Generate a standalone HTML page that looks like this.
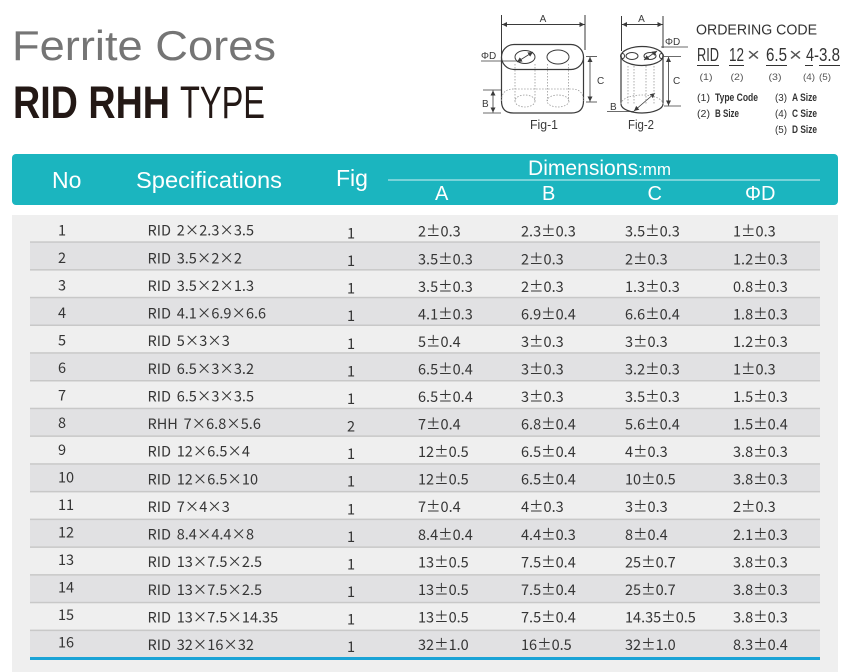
<!DOCTYPE html>
<html>
<head>
<meta charset="utf-8">
<style>
html,body{margin:0;padding:0;background:#fff;}
svg{display:block;}
.t{font-family:"Noto Sans CJK SC","Liberation Sans",sans-serif;font-size:14.5px;fill:#353535;}
.h{font-family:"Liberation Sans",Arial,sans-serif;fill:#fff;}
.f{font-family:"Liberation Sans",Arial,sans-serif;fill:#3a3a3a;}
</style>
</head>
<body>
<svg width="850" height="672" viewBox="0 0 850 672" xmlns="http://www.w3.org/2000/svg">
<defs>
<marker id="ar" viewBox="0 0 6 6" refX="6" refY="3" markerWidth="5" markerHeight="5" orient="auto-start-reverse" markerUnits="userSpaceOnUse">
<path d="M0,0 L6,3 L0,6 z" fill="#3a3a3a"/>
</marker>
</defs>
<rect x="0" y="0" width="850" height="672" fill="#fff"/>

<!-- Title -->
<text x="12" y="60" font-family="Liberation Sans, Arial, sans-serif" font-size="42" fill="#757575" textLength="264" lengthAdjust="spacingAndGlyphs">Ferrite Cores</text>
<text x="13" y="118" font-family="Liberation Sans, Arial, sans-serif" font-size="45" font-weight="bold" fill="#231815" textLength="157" lengthAdjust="spacingAndGlyphs">RID RHH</text>
<text x="180" y="118" font-family="Liberation Sans, Arial, sans-serif" font-size="45" fill="#231815" textLength="85" lengthAdjust="spacingAndGlyphs">TYPE</text>

<!-- Fig-1 -->
<g stroke="#3a3a3a" fill="none" stroke-width="1">
<line x1="501.5" y1="15" x2="501.5" y2="56"/>
<line x1="585" y1="15" x2="585" y2="50"/>
<line x1="502" y1="24.5" x2="584.5" y2="24.5" marker-start="url(#ar)" marker-end="url(#ar)"/>
<path d="M501.5,57 V101 Q501.5,113 513.5,113 H571.5 Q583.5,113 583.5,101 V57" stroke-width="1.2"/>
<rect x="501.5" y="44.5" width="82" height="25" rx="12.5" ry="12.5" fill="#fff" stroke-width="1.2"/>
<ellipse cx="525" cy="57" rx="10" ry="6.5"/>
<ellipse cx="558" cy="57" rx="11" ry="7"/>
<line x1="517" y1="62" x2="533" y2="52" stroke-width="0.8" marker-start="url(#ar)" marker-end="url(#ar)"/>
<line x1="481" y1="61" x2="517" y2="61" stroke-width="0.8"/>
<line x1="586" y1="56.5" x2="597" y2="56.5" stroke-width="0.8"/>
<line x1="586" y1="102" x2="597" y2="102" stroke-width="0.8"/>
<line x1="590" y1="57" x2="590" y2="101.5" stroke-width="0.8" marker-start="url(#ar)" marker-end="url(#ar)"/>
<line x1="483" y1="90" x2="501" y2="90" stroke-width="0.8"/>
<line x1="483" y1="113" x2="501" y2="113" stroke-width="0.8"/>
<line x1="493" y1="90.5" x2="493" y2="112.5" stroke-width="0.8" marker-start="url(#ar)" marker-end="url(#ar)"/>
</g>
<g stroke="#9a9a9a" fill="none" stroke-width="0.8" stroke-dasharray="1.5 1.5">
<line x1="515" y1="64" x2="515" y2="101"/>
<line x1="535" y1="64" x2="535" y2="101"/>
<line x1="547.5" y1="64" x2="547.5" y2="101"/>
<line x1="568.5" y1="64" x2="568.5" y2="101"/>
<ellipse cx="525" cy="101" rx="10" ry="6"/>
<ellipse cx="558" cy="101" rx="11" ry="6"/>
<path d="M501.5,101 Q501.5,89 513.5,89 H571.5 Q583.5,89 583.5,101"/>
</g>
<text class="f" x="543" y="22" font-size="10" text-anchor="middle">A</text>
<text class="f" x="481" y="59" font-size="10">ΦD</text>
<text class="f" x="597" y="84" font-size="10">C</text>
<text class="f" x="482" y="107" font-size="10">B</text>
<text class="f" x="530" y="129" font-size="12.5" textLength="28" lengthAdjust="spacingAndGlyphs">Fig-1</text>

<!-- Fig-2 -->
<g stroke="#3a3a3a" fill="none" stroke-width="1">
<line x1="621.5" y1="16" x2="621.5" y2="51"/>
<line x1="663" y1="16" x2="663" y2="48"/>
<line x1="622" y1="24.5" x2="662.5" y2="24.5" marker-start="url(#ar)" marker-end="url(#ar)"/>
<line x1="621" y1="56" x2="621" y2="104" stroke-width="1.2"/>
<line x1="663" y1="56" x2="663" y2="104" stroke-width="1.2"/>
<path d="M621,104 A21,9 0 0 0 663,104" stroke-width="1.2"/>
<ellipse cx="642" cy="56" rx="21" ry="9.5" stroke-width="1.2"/>
<ellipse cx="632" cy="56" rx="6" ry="3.5"/>
<ellipse cx="650" cy="56" rx="6" ry="3.5"/>
<ellipse cx="622.5" cy="56" rx="2" ry="2.5"/>
<ellipse cx="661.5" cy="56" rx="2" ry="2.5"/>
<line x1="644" y1="60" x2="657" y2="51" stroke-width="0.8" marker-start="url(#ar)" marker-end="url(#ar)"/>
<line x1="661" y1="47" x2="688" y2="47" stroke-width="0.8"/>
<line x1="664" y1="56.5" x2="681" y2="56.5" stroke-width="0.8"/>
<line x1="664" y1="106" x2="681" y2="106" stroke-width="0.8"/>
<line x1="668.5" y1="57" x2="668.5" y2="105.5" stroke-width="0.8" marker-start="url(#ar)" marker-end="url(#ar)"/>
<line x1="607" y1="111.5" x2="634" y2="111.5" stroke-width="0.8"/>
<line x1="634" y1="111" x2="655" y2="93" stroke-width="0.8" marker-start="url(#ar)" marker-end="url(#ar)"/>
</g>
<g stroke="#9a9a9a" fill="none" stroke-width="0.8" stroke-dasharray="1.5 1.5">
<line x1="628" y1="66" x2="628" y2="104"/>
<line x1="634" y1="66" x2="634" y2="104"/>
<line x1="646" y1="66" x2="646" y2="104"/>
<line x1="654" y1="66" x2="654" y2="104"/>
<path d="M621,104 A21,9 0 0 1 663,104"/>
</g>
<text class="f" x="641.5" y="22" font-size="10" text-anchor="middle">A</text>
<text class="f" x="665" y="45" font-size="10">ΦD</text>
<text class="f" x="673" y="84" font-size="10">C</text>
<text class="f" x="610" y="110" font-size="10">B</text>
<text class="f" x="628" y="129" font-size="12.5" textLength="26" lengthAdjust="spacingAndGlyphs">Fig-2</text>

<!-- Ordering code -->
<g font-family="Liberation Sans, Arial, sans-serif" fill="#333">
<text x="696" y="34.5" font-size="15" textLength="121" lengthAdjust="spacingAndGlyphs">ORDERING CODE</text>
<text x="697" y="61" font-size="18" textLength="22" lengthAdjust="spacingAndGlyphs">RID</text>
<text x="729" y="61" font-size="18" textLength="15" lengthAdjust="spacingAndGlyphs">12</text>
<text x="747" y="61" font-size="18" fill="#555" textLength="13" lengthAdjust="spacingAndGlyphs">×</text>
<text x="766" y="61" font-size="18" textLength="21" lengthAdjust="spacingAndGlyphs">6.5</text>
<text x="789" y="61" font-size="18" fill="#555" textLength="13" lengthAdjust="spacingAndGlyphs">×</text>
<text x="806" y="61" font-size="18" textLength="8" lengthAdjust="spacingAndGlyphs">4</text>
<text x="814" y="61" font-size="18" textLength="5" lengthAdjust="spacingAndGlyphs">-</text>
<text x="819" y="61" font-size="18" textLength="21" lengthAdjust="spacingAndGlyphs">3.8</text>
</g>
<g stroke="#333" stroke-width="1">
<line x1="697" y1="65.5" x2="719" y2="65.5"/>
<line x1="729" y1="65.5" x2="744" y2="65.5"/>
<line x1="766" y1="65.5" x2="787" y2="65.5"/>
<line x1="805" y1="65.5" x2="813" y2="65.5"/>
<line x1="819" y1="65.5" x2="840" y2="65.5"/>
</g>
<g font-family="Liberation Sans, Arial, sans-serif" font-size="9" fill="#555" text-anchor="middle">
<text x="706" y="80" textLength="13" lengthAdjust="spacingAndGlyphs">(1)</text>
<text x="737" y="80" textLength="13" lengthAdjust="spacingAndGlyphs">(2)</text>
<text x="775" y="80" textLength="13" lengthAdjust="spacingAndGlyphs">(3)</text>
<text x="809" y="80" textLength="12" lengthAdjust="spacingAndGlyphs">(4)</text>
<text x="825" y="80" textLength="12" lengthAdjust="spacingAndGlyphs">(5)</text>
</g>
<g font-family="Liberation Sans, Arial, sans-serif" fill="#333">
<text x="697" y="101" font-size="10" textLength="13" lengthAdjust="spacingAndGlyphs">(1)</text>
<text x="715" y="101" font-size="11" font-weight="bold" textLength="43" lengthAdjust="spacingAndGlyphs">Type Code</text>
<text x="697" y="117" font-size="10" textLength="13" lengthAdjust="spacingAndGlyphs">(2)</text>
<text x="715" y="117" font-size="11" font-weight="bold" textLength="24" lengthAdjust="spacingAndGlyphs">B Size</text>
<text x="775" y="101" font-size="10" textLength="12" lengthAdjust="spacingAndGlyphs">(3)</text>
<text x="792" y="101" font-size="11" font-weight="bold" textLength="25" lengthAdjust="spacingAndGlyphs">A Size</text>
<text x="775" y="117" font-size="10" textLength="12" lengthAdjust="spacingAndGlyphs">(4)</text>
<text x="792" y="117" font-size="11" font-weight="bold" textLength="25" lengthAdjust="spacingAndGlyphs">C Size</text>
<text x="775" y="133" font-size="10" textLength="12" lengthAdjust="spacingAndGlyphs">(5)</text>
<text x="792" y="133" font-size="11" font-weight="bold" textLength="25" lengthAdjust="spacingAndGlyphs">D Size</text>
</g>

<!-- Table header -->
<rect x="12" y="154" width="826" height="51" rx="4" ry="4" fill="#1bb5bf"/>
<text class="h" x="52" y="188" font-size="23">No</text>
<text class="h" x="136" y="188" font-size="23" textLength="146" lengthAdjust="spacingAndGlyphs">Specifications</text>
<text class="h" x="336" y="186" font-size="23">Fig</text>
<text class="h" x="528" y="175" font-size="21"><tspan textLength="110" lengthAdjust="spacingAndGlyphs">Dimensions</tspan><tspan font-size="17">:mm</tspan></text>
<line x1="388" y1="180" x2="820" y2="180" stroke="#d6f1f3" stroke-width="1"/>
<text class="h" x="435" y="200" font-size="20">A</text>
<text class="h" x="542" y="200" font-size="20">B</text>
<text class="h" x="647.5" y="200" font-size="20">C</text>
<text class="h" x="745" y="200" font-size="20">ΦD</text>

<!-- Table body -->
<rect x="12" y="215" width="826" height="457" fill="#efefef"/>
<g fill="#e1e1e3">
<rect x="30" y="242" width="790" height="27.8"/>
<rect x="30" y="297.5" width="790" height="27.7"/>
<rect x="30" y="352.95" width="790" height="27.75"/>
<rect x="30" y="408.4" width="790" height="27.7"/>
<rect x="30" y="463.9" width="790" height="27.7"/>
<rect x="30" y="519.3" width="790" height="27.8"/>
<rect x="30" y="574.8" width="790" height="27.7"/>
<rect x="30" y="630.3" width="790" height="27.7"/>
</g>
<g fill="#c8c8c8">
<rect x="30" y="241.3" width="790" height="1.5"/>
<rect x="30" y="269.1" width="790" height="1.5"/>
<rect x="30" y="296.8" width="790" height="1.5"/>
<rect x="30" y="324.5" width="790" height="1.5"/>
<rect x="30" y="352.2" width="790" height="1.5"/>
<rect x="30" y="380" width="790" height="1.5"/>
<rect x="30" y="407.7" width="790" height="1.5"/>
<rect x="30" y="435.4" width="790" height="1.5"/>
<rect x="30" y="463.2" width="790" height="1.5"/>
<rect x="30" y="490.9" width="790" height="1.5"/>
<rect x="30" y="518.6" width="790" height="1.5"/>
<rect x="30" y="546.4" width="790" height="1.5"/>
<rect x="30" y="574.1" width="790" height="1.5"/>
<rect x="30" y="601.8" width="790" height="1.5"/>
<rect x="30" y="629.6" width="790" height="1.5"/>
</g>
<rect x="30" y="657" width="790" height="3" fill="#1aa3d6"/>

<!-- No column -->
<g>
<text class="t" x="58" y="235.7">1</text>
<text class="t" x="58" y="263.1">2</text>
<text class="t" x="58" y="290.6">3</text>
<text class="t" x="58" y="318.0">4</text>
<text class="t" x="58" y="345.5">5</text>
<text class="t" x="58" y="372.9">6</text>
<text class="t" x="58" y="400.3">7</text>
<text class="t" x="58" y="427.8">8</text>
<text class="t" x="58" y="455.2">9</text>
<text class="t" x="58" y="482.7">10</text>
<text class="t" x="58" y="510.1">11</text>
<text class="t" x="58" y="537.5">12</text>
<text class="t" x="58" y="565.0">13</text>
<text class="t" x="58" y="592.4">14</text>
<text class="t" x="58" y="619.9">15</text>
<text class="t" x="58" y="647.3">16</text>
</g>

<!-- Specifications -->
<g>
<text class="t" x="147.5" y="235.7">RID <tspan dx="2.5">2×2.3×3.5</tspan></text>
<text class="t" x="147.5" y="263.3">RID <tspan dx="2.5">3.5×2×2</tspan></text>
<text class="t" x="147.5" y="290.9">RID <tspan dx="2.5">3.5×2×1.3</tspan></text>
<text class="t" x="147.5" y="318.6">RID <tspan dx="2.5">4.1×6.9×6.6</tspan></text>
<text class="t" x="147.5" y="346.2">RID <tspan dx="2.5">5×3×3</tspan></text>
<text class="t" x="147.5" y="373.8">RID <tspan dx="2.5">6.5×3×3.2</tspan></text>
<text class="t" x="147.5" y="401.4">RID <tspan dx="2.5">6.5×3×3.5</tspan></text>
<text class="t" x="147.5" y="429.0">RHH <tspan dx="2.5">7×6.8×5.6</tspan></text>
<text class="t" x="147.5" y="456.7">RID <tspan dx="2.5">12×6.5×4</tspan></text>
<text class="t" x="147.5" y="484.3">RID <tspan dx="2.5">12×6.5×10</tspan></text>
<text class="t" x="147.5" y="511.9">RID <tspan dx="2.5">7×4×3</tspan></text>
<text class="t" x="147.5" y="539.5">RID <tspan dx="2.5">8.4×4.4×8</tspan></text>
<text class="t" x="147.5" y="567.1">RID <tspan dx="2.5">13×7.5×2.5</tspan></text>
<text class="t" x="147.5" y="594.8">RID <tspan dx="2.5">13×7.5×2.5</tspan></text>
<text class="t" x="147.5" y="622.4">RID <tspan dx="2.5">13×7.5×14.35</tspan></text>
<text class="t" x="147.5" y="650.0">RID <tspan dx="2.5">32×16×32</tspan></text>
</g>

<!-- Fig -->
<g>
<text class="t" x="347" y="238.5">1</text>
<text class="t" x="347" y="266.1">1</text>
<text class="t" x="347" y="293.7">1</text>
<text class="t" x="347" y="321.2">1</text>
<text class="t" x="347" y="348.8">1</text>
<text class="t" x="347" y="376.4">1</text>
<text class="t" x="347" y="404.0">1</text>
<text class="t" x="347" y="431.6">2</text>
<text class="t" x="347" y="459.1">1</text>
<text class="t" x="347" y="486.7">1</text>
<text class="t" x="347" y="514.3">1</text>
<text class="t" x="347" y="541.9">1</text>
<text class="t" x="347" y="569.5">1</text>
<text class="t" x="347" y="597.0">1</text>
<text class="t" x="347" y="624.6">1</text>
<text class="t" x="347" y="652.2">1</text>
</g>

<!-- A -->
<g>
<text class="t" x="418" y="236.7">2±0.3</text>
<text class="t" x="418" y="264.3">3.5±0.3</text>
<text class="t" x="418" y="291.8">3.5±0.3</text>
<text class="t" x="418" y="319.4">4.1±0.3</text>
<text class="t" x="418" y="346.9">5±0.4</text>
<text class="t" x="418" y="374.5">6.5±0.4</text>
<text class="t" x="418" y="402.0">6.5±0.4</text>
<text class="t" x="418" y="429.6">7±0.4</text>
<text class="t" x="418" y="457.1">12±0.5</text>
<text class="t" x="418" y="484.7">12±0.5</text>
<text class="t" x="418" y="512.2">7±0.4</text>
<text class="t" x="418" y="539.8">8.4±0.4</text>
<text class="t" x="418" y="567.3">13±0.5</text>
<text class="t" x="418" y="594.9">13±0.5</text>
<text class="t" x="418" y="622.4">13±0.5</text>
<text class="t" x="418" y="650.0">32±1.0</text>
</g>

<!-- B -->
<g>
<text class="t" x="521" y="236.7">2.3±0.3</text>
<text class="t" x="521" y="264.3">2±0.3</text>
<text class="t" x="521" y="291.8">2±0.3</text>
<text class="t" x="521" y="319.4">6.9±0.4</text>
<text class="t" x="521" y="346.9">3±0.3</text>
<text class="t" x="521" y="374.5">3±0.3</text>
<text class="t" x="521" y="402.0">3±0.3</text>
<text class="t" x="521" y="429.6">6.8±0.4</text>
<text class="t" x="521" y="457.1">6.5±0.4</text>
<text class="t" x="521" y="484.7">6.5±0.4</text>
<text class="t" x="521" y="512.2">4±0.3</text>
<text class="t" x="521" y="539.8">4.4±0.3</text>
<text class="t" x="521" y="567.3">7.5±0.4</text>
<text class="t" x="521" y="594.9">7.5±0.4</text>
<text class="t" x="521" y="622.4">7.5±0.4</text>
<text class="t" x="521" y="650.0">16±0.5</text>
</g>

<!-- C -->
<g>
<text class="t" x="625" y="236.7">3.5±0.3</text>
<text class="t" x="625" y="264.3">2±0.3</text>
<text class="t" x="625" y="291.8">1.3±0.3</text>
<text class="t" x="625" y="319.4">6.6±0.4</text>
<text class="t" x="625" y="346.9">3±0.3</text>
<text class="t" x="625" y="374.5">3.2±0.3</text>
<text class="t" x="625" y="402.0">3.5±0.3</text>
<text class="t" x="625" y="429.6">5.6±0.4</text>
<text class="t" x="625" y="457.1">4±0.3</text>
<text class="t" x="625" y="484.7">10±0.5</text>
<text class="t" x="625" y="512.2">3±0.3</text>
<text class="t" x="625" y="539.8">8±0.4</text>
<text class="t" x="625" y="567.3">25±0.7</text>
<text class="t" x="625" y="594.9">25±0.7</text>
<text class="t" x="625" y="622.4">14.35±0.5</text>
<text class="t" x="625" y="650.0">32±1.0</text>
</g>

<!-- D -->
<g>
<text class="t" x="733" y="236.7">1±0.3</text>
<text class="t" x="733" y="264.3">1.2±0.3</text>
<text class="t" x="733" y="291.8">0.8±0.3</text>
<text class="t" x="733" y="319.4">1.8±0.3</text>
<text class="t" x="733" y="346.9">1.2±0.3</text>
<text class="t" x="733" y="374.5">1±0.3</text>
<text class="t" x="733" y="402.0">1.5±0.3</text>
<text class="t" x="733" y="429.6">1.5±0.4</text>
<text class="t" x="733" y="457.1">3.8±0.3</text>
<text class="t" x="733" y="484.7">3.8±0.3</text>
<text class="t" x="733" y="512.2">2±0.3</text>
<text class="t" x="733" y="539.8">2.1±0.3</text>
<text class="t" x="733" y="567.3">3.8±0.3</text>
<text class="t" x="733" y="594.9">3.8±0.3</text>
<text class="t" x="733" y="622.4">3.8±0.3</text>
<text class="t" x="733" y="650.0">8.3±0.4</text>
</g>
</svg>
</body>
</html>
